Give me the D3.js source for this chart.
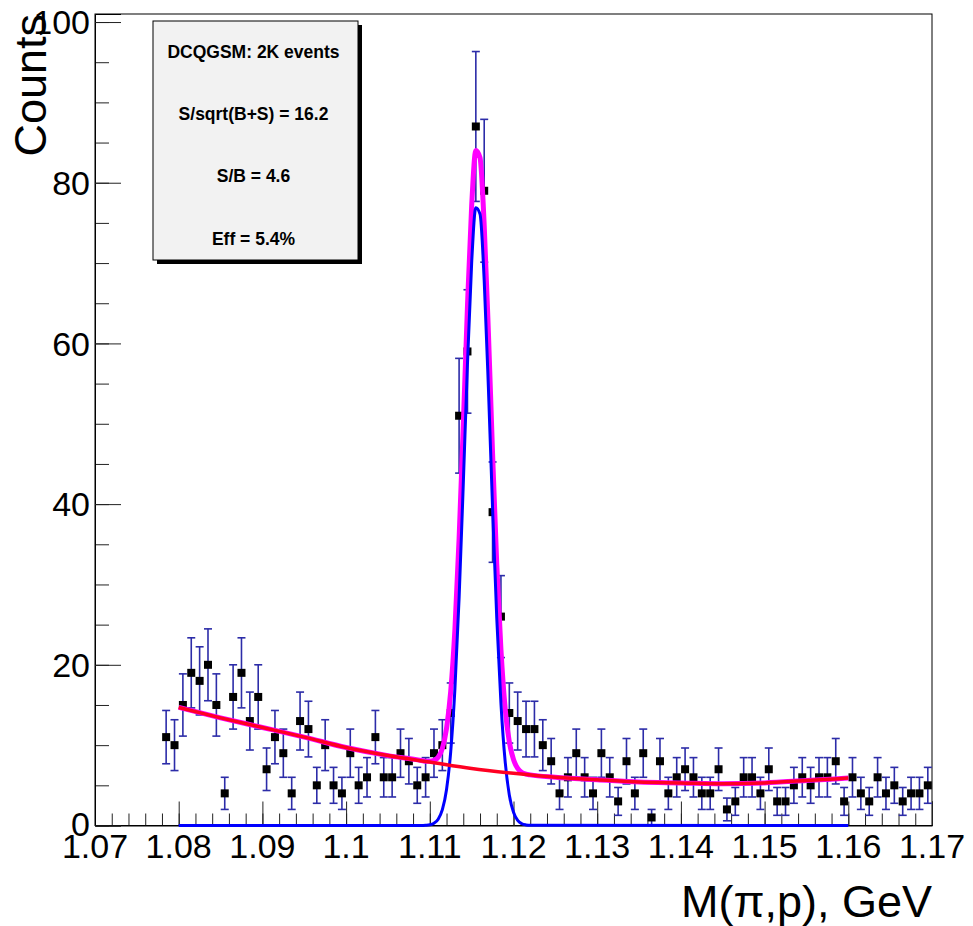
<!DOCTYPE html>
<html>
<head>
<meta charset="utf-8">
<script src="https://cdn.jsdelivr.net/npm/d3@7.8.5/dist/d3.min.js"></script>
<style>
  body { margin: 0; background: #fff; }
  svg { display: block; font-family: "Liberation Sans", Arial, sans-serif; }
</style>
</head>
<body>
<svg width="973" height="926"></svg>
<script>
// histogram: 1 MeV bins starting at 1.078 GeV
const binLow = 1.078;
const binWidth = 0.001;
const counts = [
  11, 10, 15, 19, 18, 20, 15, 4, 16, 19, 13, 16, 7, 11, 9, 4, 13, 12, 5, 10,
  5, 4, 9, 5, 6, 11, 6, 6, 9, 8, 5, 6, 9, 10, 14, 51, 59, 87, 79, 39,
  26, 14, 13, 12, 12, 10, 8, 4, 6, 9, 6, 4, 9, 6, 3, 8, 4, 9, 1, 8,
  4, 6, 7, 6, 4, 4, 7, 2, 3, 6, 6, 4, 7, 3, 3, 5, 6, 5, 6, 6,
  8, 3, 6, 4, 3, 6, 4, 5, 3, 4, 4, 5
];

// background fit (red)
const bgMass = [1.080, 1.085, 1.090, 1.095, 1.100, 1.105, 1.110, 1.115, 1.120,
  1.125, 1.130, 1.135, 1.140, 1.145, 1.150, 1.155, 1.160];
const bgVal = [14.7, 13.4, 12.2, 11.0, 9.7, 8.7, 7.9, 7.1, 6.5,
  6.0, 5.7, 5.4, 5.3, 5.2, 5.3, 5.6, 5.9];

// signal fit (blue)
const sigMass = [1.080, 1.1090, 1.1095, 1.1100, 1.1105, 1.1110, 1.1115, 1.1120,
  1.1125, 1.1130, 1.1135, 1.1140, 1.1145, 1.1150, 1.1155, 1.1160, 1.1165,
  1.1170, 1.1175, 1.1180, 1.1185, 1.1190, 1.1195, 1.1200, 1.1205, 1.1210,
  1.1215, 1.1220, 1.160];
const sigVal = [0, 0.0, 0.03, 0.09, 0.28, 0.78, 1.97, 4.49,
  9.2, 17.0, 28.3, 42.5, 57.4, 70.0, 76.9, 76.1, 67.8,
  54.5, 39.5, 25.8, 15.2, 8.0, 3.8, 1.65, 0.64, 0.22,
  0.07, 0.02, 0];

// total fit (magenta)
const totMass = [1.080, 1.085, 1.090, 1.095, 1.100, 1.105,
  1.1090, 1.1095, 1.1100, 1.1105, 1.1110, 1.1115, 1.1120, 1.1125, 1.1130,
  1.1135, 1.1140, 1.1145, 1.1150, 1.1155, 1.1160, 1.1165, 1.1170, 1.1175,
  1.1180, 1.1185, 1.1190, 1.1195, 1.1200, 1.1205, 1.1210, 1.1215, 1.1220,
  1.125, 1.130, 1.135, 1.140, 1.145, 1.150, 1.155, 1.160];
const totVal = [14.7, 13.4, 12.2, 11.0, 9.7, 8.7,
  8.1, 8.0, 8.0, 8.1, 8.5, 9.6, 12.1, 16.7, 24.4,
  35.7, 49.8, 64.6, 77.1, 84.0, 83.1, 74.7, 61.4, 46.3,
  32.5, 21.9, 14.6, 10.4, 8.2, 7.1, 6.6, 6.4, 6.3,
  6.0, 5.7, 5.4, 5.3, 5.2, 5.3, 5.6, 5.9];

const xTicks = [1.07, 1.08, 1.09, 1.10, 1.11, 1.12, 1.13, 1.14, 1.15, 1.16, 1.17];
const xTickLabels = ["1.07", "1.08", "1.09", "1.1", "1.11", "1.12", "1.13", "1.14", "1.15", "1.16", "1.17"];
const yTicks = [0, 20, 40, 60, 80, 100];

const boxLines = ["DCQGSM: 2K events", "S/sqrt(B+S) = 16.2", "S/B = 4.6", "Eff = 5.4%"];

const svg = d3.select("svg");
const frameL = 95, frameR = 932, frameT = 14, frameB = 825.5;

const x = d3.scaleLinear().domain([1.07, 1.17]).range([frameL, frameR]);
const y = d3.scaleLinear().domain([0, 101]).range([frameB, frameT]);

// frame
svg.append("rect")
  .attr("x", frameL).attr("y", frameT)
  .attr("width", frameR - frameL).attr("height", frameB - frameT)
  .attr("fill", "none").attr("stroke", "#000").attr("stroke-width", 1);

// x axis (ticks pointing up into the frame)
svg.append("g").attr("transform", `translate(0,${frameB})`)
  .call(d3.axisTop(x).tickValues(d3.range(0, 51).map((i) => 1.07 + i * 0.002)).tickSize(12).tickFormat(""))
  .call((g) => g.select(".domain").remove())
  .selectAll("line").attr("stroke", "#222");

svg.append("g").attr("transform", `translate(0,${frameB})`)
  .call(d3.axisTop(x).tickValues(xTicks).tickSize(24).tickFormat(""))
  .call((g) => g.select(".domain").attr("stroke", "#000"))
  .selectAll("line").attr("stroke", "#222");

svg.append("g").selectAll("text")
  .data(xTicks)
  .join("text")
  .attr("x", (d) => x(d))
  .attr("y", 858)
  .attr("text-anchor", "middle")
  .attr("font-size", 34)
  .attr("fill", "#000")
  .text((d, i) => xTickLabels[i]);

// y axis (ticks pointing right into the frame)
svg.append("g").attr("transform", `translate(${frameL},0)`)
  .call(d3.axisRight(y).tickValues(d3.range(0, 101, 5)).tickSize(14).tickFormat(""))
  .call((g) => g.select(".domain").remove())
  .selectAll("line").attr("stroke", "#222");

svg.append("g").attr("transform", `translate(${frameL},0)`)
  .call(d3.axisRight(y).tickValues(yTicks).tickSize(26).tickFormat(""))
  .call((g) => g.select(".domain").attr("stroke", "#000"))
  .selectAll("line").attr("stroke", "#222");

svg.append("g").selectAll("text")
  .data(yTicks)
  .join("text")
  .attr("x", 90)
  .attr("y", (d) => y(d))
  .attr("dy", (d) => (d === 0 ? "0.3em" : "0.36em"))
  .attr("text-anchor", "end")
  .attr("font-size", 34)
  .attr("fill", "#000")
  .text((d) => d);

// axis titles
svg.append("text")
  .attr("x", frameR).attr("y", 917)
  .attr("text-anchor", "end")
  .attr("font-size", 45)
  .text("M(\u03c0,p), GeV");

svg.append("text")
  .attr("transform", "translate(46,14) rotate(-90)")
  .attr("text-anchor", "end")
  .attr("font-size", 45)
  .text("Counts");

// histogram points with Poisson errors
const bins = counts.map((c, i) => ({ m: binLow + (i + 0.5) * binWidth, c }));
const errColor = "#2c2ca8";
const pts = svg.append("g");
bins.forEach((b) => {
  const e = Math.sqrt(b.c);
  const cx = x(b.m);
  const y1 = y(b.c - e), y2 = y(b.c + e);
  pts.append("line").attr("x1", cx).attr("x2", cx).attr("y1", y1).attr("y2", y2)
    .attr("stroke", errColor).attr("stroke-width", 1.6);
  [y1, y2].forEach((yy) => {
    pts.append("line").attr("x1", cx - 4).attr("x2", cx + 4).attr("y1", yy).attr("y2", yy)
      .attr("stroke", errColor).attr("stroke-width", 1.6);
  });
});
pts.selectAll("rect.marker")
  .data(bins)
  .join("rect")
  .attr("class", "marker")
  .attr("x", (d) => x(d.m) - 4)
  .attr("y", (d) => y(d.c) - 4)
  .attr("width", 8).attr("height", 8)
  .attr("fill", "#000");

// fit curves
const line = d3.line()
  .x((d) => x(d[0]))
  .y((d) => y(d[1]))
  .curve(d3.curveMonotoneX);

svg.append("path")
  .attr("d", line(d3.zip(totMass, totVal)))
  .attr("fill", "none").attr("stroke", "#ff00ff").attr("stroke-width", 5)
  .attr("stroke-linejoin", "round");

svg.append("path")
  .attr("d", line(d3.zip(sigMass, sigVal)))
  .attr("fill", "none").attr("stroke", "#0000ff").attr("stroke-width", 3)
  .attr("stroke-linejoin", "round");

svg.append("path")
  .attr("d", line(d3.zip(bgMass, bgVal)))
  .attr("fill", "none").attr("stroke", "#ff0022").attr("stroke-width", 3.5)
  .attr("stroke-linejoin", "round");

// info box with shadow
const box = { x: 153, y: 21, w: 205, h: 239 };
svg.append("rect")
  .attr("x", box.x + 4).attr("y", box.y + 4)
  .attr("width", box.w).attr("height", box.h)
  .attr("fill", "#000");
svg.append("rect")
  .attr("x", box.x).attr("y", box.y)
  .attr("width", box.w).attr("height", box.h)
  .attr("fill", "#f2f2f2").attr("stroke", "#000").attr("stroke-width", 1);

const lineY = [58, 120, 182, 245];
svg.append("g").selectAll("text")
  .data(boxLines)
  .join("text")
  .attr("x", box.x + box.w / 2 - 2)
  .attr("y", (d, i) => lineY[i])
  .attr("text-anchor", "middle")
  .attr("font-size", 17.5)
  .attr("font-weight", "bold")
  .attr("fill", "#000")
  .text((d) => d);
</script>
</body>
</html>
